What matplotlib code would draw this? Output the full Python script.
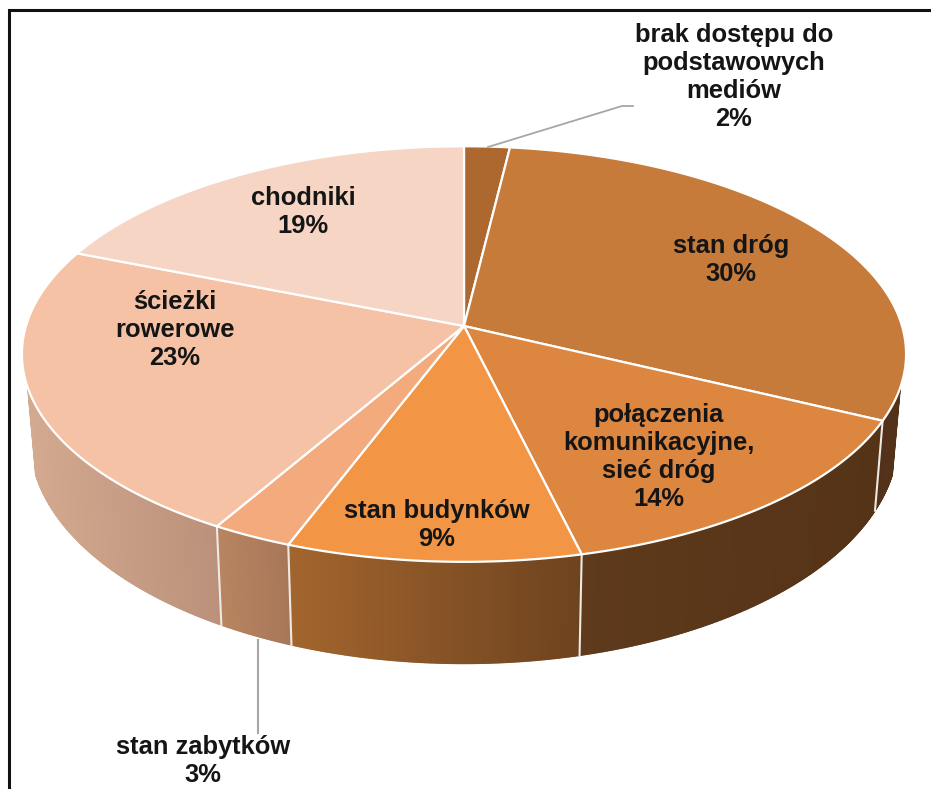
import numpy as np
import matplotlib
matplotlib.use("Agg")
import matplotlib.pyplot as plt
from matplotlib.collections import PolyCollection
from matplotlib.colors import to_rgb
from matplotlib.patches import Polygon

# Data: clockwise from 12 o'clock (estimated unrounded shares, labels show whole percents)
categories = ["brak dostępu do\npodstawowych\nmediów", "stan dróg",
              "połączenia\nkomunikacyjne,\nsieć dróg", "stan budynków", "stan zabytków",
              "ścieżki\nrowerowe", "chodniki"]
values = [1.9, 30.3, 14.05, 9.45, 2.6, 22.8, 18.9]
top_colors = ["#AC682E", "#C67B3A", "#DD863F", "#F29544", "#F3AA7C", "#F5C2A6", "#F6D5C4"]
wall_left = ["#AC682E", "#52311A", "#5F3A1C", "#A3652E", "#B88560", "#D3A98F", "#F6D5C4"]
wall_right = ["#AC682E", "#54321A", "#553317", "#6E431F", "#A8775A", "#BB917B", "#F6D5C4"]
label_centers = [(734, 77), (731, 260), (659, 457), (437, 525), (203, 761), (175, 330), (303, 212)]

CX, CY_TOP, CY_BOT = 464.0, 326.0, 408.0
A_TOP, B_TOP, A_BOT, B_BOT, K = 438.0, 204.0, 430.0, 221.0, 0.135
WALL_Y = -0.29


def rim(theta, a, b, cy):
    x, y = np.sin(theta), np.cos(theta)
    w = 1 + K * y
    return CX + a * x / w, cy - b * y / w


fig = plt.figure(figsize=(9.31, 7.89), dpi=100)
ax = fig.add_axes([0, 0, 1, 1])
ax.set_xlim(0, 931)
ax.set_ylim(789, 0)
ax.axis("off")

edges = np.concatenate([[0], np.cumsum(values)]) / np.sum(values) * 2 * np.pi
t_min = np.arccos(WALL_Y)
t_max = 2 * np.pi - t_min

# Walls: gradient strips
for i in range(len(values)):
    lo, hi = max(edges[i], t_min), min(edges[i + 1], t_max)
    if hi <= lo:
        continue
    n = max(int((hi - lo) * 220), 2)
    ts = np.linspace(lo, hi, n + 1)
    xt, yt = rim(ts, A_TOP, B_TOP, CY_TOP)
    xb, yb = rim(ts, A_BOT, B_BOT, CY_BOT)
    polys, cols = [], []
    c_l, c_r = np.array(to_rgb(wall_left[i])), np.array(to_rgb(wall_right[i]))
    xspan = xt.max() - xt.min()
    for j in range(n):
        polys.append([(xt[j], yt[j]), (xt[j + 1], yt[j + 1]), (xb[j + 1], yb[j + 1]), (xb[j], yb[j])])
        f = (xt[j] - xt.min()) / xspan
        cols.append(c_l + (c_r - c_l) * f)
    ax.add_collection(PolyCollection(polys, facecolors=cols, edgecolors=cols, linewidths=1.0, zorder=2))

# Wall separators
for e in edges[1:-1]:
    if t_min <= e <= t_max:
        xa, ya = rim(e, A_TOP, B_TOP, CY_TOP)
        xc, yc = rim(e, A_BOT, B_BOT, CY_BOT)
        ax.plot([xa, xc], [ya, yc], color="#EDE9E4", lw=1.5, zorder=3)

# Top slices
for i, col in enumerate(top_colors):
    n = max(int((edges[i + 1] - edges[i]) * 120), 3)
    ts = np.linspace(edges[i], edges[i + 1], n + 1)
    xr, yr = rim(ts, A_TOP, B_TOP, CY_TOP)
    pts = np.column_stack([np.r_[CX, xr], np.r_[CY_TOP, yr]])
    ax.add_patch(Polygon(pts, closed=True, facecolor=col, edgecolor="white", linewidth=1.6,
                         joinstyle="round", zorder=4))

# Leader lines
ax.plot([488, 622, 633], [147, 106, 106], color="#A6A6A6", lw=1.3, zorder=5)
ax.plot([258, 258], [640, 733], color="#A6A6A6", lw=1.5, zorder=5)

# Labels
for cat, val, (lx, ly) in zip(categories, values, label_centers):
    pct = val / np.sum(values) * 100
    ax.text(lx, ly, f"{cat}\n{pct:.0f}%", ha="center", va="center", multialignment="center",
            family="Liberation Sans", fontweight="bold", fontsize=18.4, color="#151515",
            linespacing=1.228, zorder=6)

# Frame, running off the right and bottom of the picture
ax.plot([9, 9, 931], [789, 10, 10], color="#111111", lw=2.2, solid_joinstyle="miter", zorder=7)

fig.savefig("out.png", dpi=100, facecolor="white")
